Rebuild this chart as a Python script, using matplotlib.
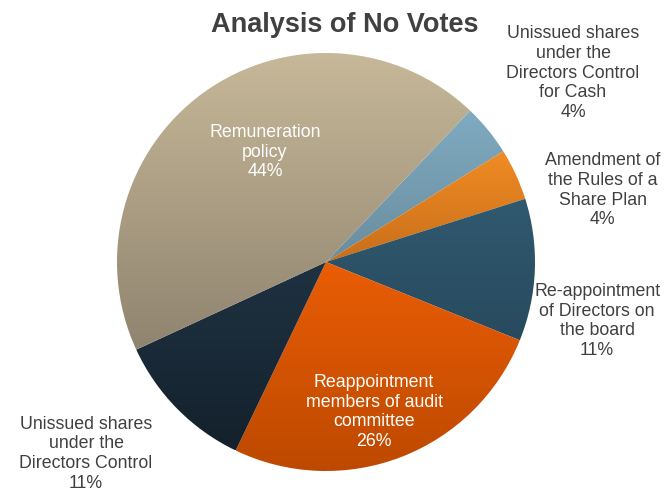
import matplotlib.pyplot as plt
import numpy as np
from matplotlib.colors import to_rgb

plt.rcParams['font.family'] = ['Liberation Sans', 'DejaVu Sans']

# data, clockwise from the top-right boundary
labels = [
    'Unissued shares\nunder the\nDirectors Control\nfor Cash',
    'Amendment of\nthe Rules of a\nShare Plan',
    'Re-appointment\nof Directors on\nthe board',
    'Reappointment\nmembers of audit\ncommittee',
    'Unissued shares\nunder the\nDirectors Control',
    'Remuneration\npolicy',
]
values = [4, 4, 11, 26, 11, 44]
top_colors = ['#80abc1', '#f08c24', '#30596f', '#ea5d05', '#1f3242', '#c6b898']
bottom_colors = ['#6a8d9e', '#c96e1a', '#284a5e', '#bd4900', '#14212c', '#908470']
label_pos = [(1.182, 0.904), (1.325, 0.344), (1.297, -0.282),
             (0.23, -0.718), (-1.148, -0.918), (-0.292, 0.526)]
label_colors = ['#404040', '#404040', '#404040', '#ffffff', '#404040', '#ffffff']

W, H = 666, 492
cx, cy, r = 326, 262, 209

fig = plt.figure(figsize=(W / 100, H / 100), dpi=100)
ax = fig.add_axes([(cx - r) / W, (H - cy - r) / H, 2 * r / W, 2 * r / H])

wedges, _ = ax.pie(values, startangle=46.4, counterclock=False, radius=1,
                   wedgeprops=dict(linewidth=0))

for wedge, c_top, c_bot in zip(wedges, top_colors, bottom_colors):
    ext = wedge.get_path().get_extents()
    t = np.linspace(0, 1, 256)[:, None]
    img = (1 - t)[..., None] * np.array(to_rgb(c_top)) + t[..., None] * np.array(to_rgb(c_bot))
    img = np.repeat(img, 2, axis=1)
    im = ax.imshow(img, extent=[ext.x0, ext.x1, ext.y0, ext.y1], origin='upper',
                   aspect='auto', zorder=2)
    im.set_clip_path(wedge)
    wedge.set_facecolor('none')

for lab, val, (x, y), col in zip(labels, values, label_pos, label_colors):
    ax.text(x, y, f'{lab}\n{val}%', ha='center', va='center', fontsize=12.75,
            color=col, linespacing=1.22, zorder=3)

ax.set_xlim(-1, 1)
ax.set_ylim(-1, 1)
ax.axis('off')

fig.text(345 / W, 1 - 25 / H, 'Analysis of No Votes', ha='center', va='center',
         fontsize=19.5, fontweight='bold', color='#404040')

fig.savefig('out.png', dpi=100)
